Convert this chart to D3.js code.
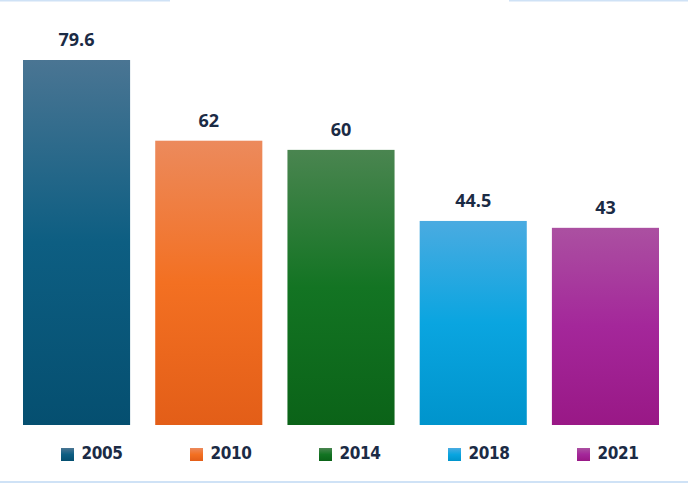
<!DOCTYPE html>
<html lang="en">
<head>
  <script src="https://d3js.org/d3.v7.min.js"></script>
  <style>
    body { margin: 0; background: #fff; }
  </style>
</head>
<body>
  <svg width="688" height="483"></svg>
  <script>
    // chart data
    var years = ["2005", "2010", "2014", "2018", "2021"];
    var values = [79.6, 62, 60, 44.5, 43];
    var labels = ["79.6", "62", "60", "44.5", "43"];
    var topColors = ["#4a7593", "#ec8a5c", "#4a8550", "#4aabe1", "#ab50a1"];
    var midColors = ["#0d5e82", "#f37022", "#137423", "#0aa5e0", "#a4279a"];
    var bottomColors = ["#054f70", "#e35e18", "#0b6318", "#0094cc", "#991886"];

    var svg = d3.select("svg");
    var x = d3.scaleBand().domain(years).range([23, 659]).paddingInner(0.19).paddingOuter(0);
    var y = d3.scaleLinear().domain([0, 79.6]).range([425, 60]);
    var legX = d3.scalePoint().domain(years).range([61, 577]);

    // frame lines
    svg.append("rect").attr("x", 0).attr("y", 0).attr("width", 170).attr("height", 1.5).attr("fill", "#cfe2f6");
    svg.append("rect").attr("x", 509).attr("y", 0).attr("width", 179).attr("height", 1.5).attr("fill", "#cfe2f6");
    svg.append("rect").attr("x", 0).attr("y", 481).attr("width", 688).attr("height", 2).attr("fill", "#cfe2f6");

    var defs = svg.append("defs");
    years.forEach(function (yr, i) {
      var g = defs.append("linearGradient").attr("id", "g" + i)
        .attr("x1", 0).attr("y1", 0).attr("x2", 0).attr("y2", 1);
      g.append("stop").attr("offset", "0%").attr("stop-color", topColors[i]);
      g.append("stop").attr("offset", "50%").attr("stop-color", midColors[i]);
      g.append("stop").attr("offset", "100%").attr("stop-color", bottomColors[i]);
    });

    svg.selectAll("rect.bar").data(values).enter().append("rect").attr("class", "bar")
      .attr("x", function (d, i) { return x(years[i]); })
      .attr("y", function (d) { return y(d); })
      .attr("width", x.bandwidth())
      .attr("height", function (d) { return y(0) - y(d); })
      .attr("fill", function (d, i) { return "url(#g" + i + ")"; });

    svg.selectAll("text.val").data(values).enter().append("text").attr("class", "val")
      .attr("x", function (d, i) { return x(years[i]) + x.bandwidth() / 2; })
      .attr("y", function (d) { return y(d) - 14; })
      .attr("text-anchor", "middle")
      .attr("font-family", "'Open Sans', sans-serif").attr("font-weight", "bold").attr("font-size", 18)
      .attr("fill", "#1b2b45")
      .text(function (d, i) { return labels[i]; });

    // legend
    var leg = svg.selectAll("g.leg").data(years).enter().append("g").attr("class", "leg")
      .attr("transform", function (d) { return "translate(" + legX(d) + ",448)"; });
    leg.append("rect").attr("width", 13).attr("height", 13)
      .attr("fill", function (d, i) { return "url(#g" + i + ")"; });
    leg.append("text").attr("x", 20.5).attr("y", 11)
      .attr("font-family", "'DejaVu Sans Condensed', sans-serif").attr("font-weight", "bold").attr("font-size", 17)
      .attr("letter-spacing", -0.4)
      .attr("fill", "#1b2b45")
      .text(function (d) { return d; });
  </script>
</body>
</html>
